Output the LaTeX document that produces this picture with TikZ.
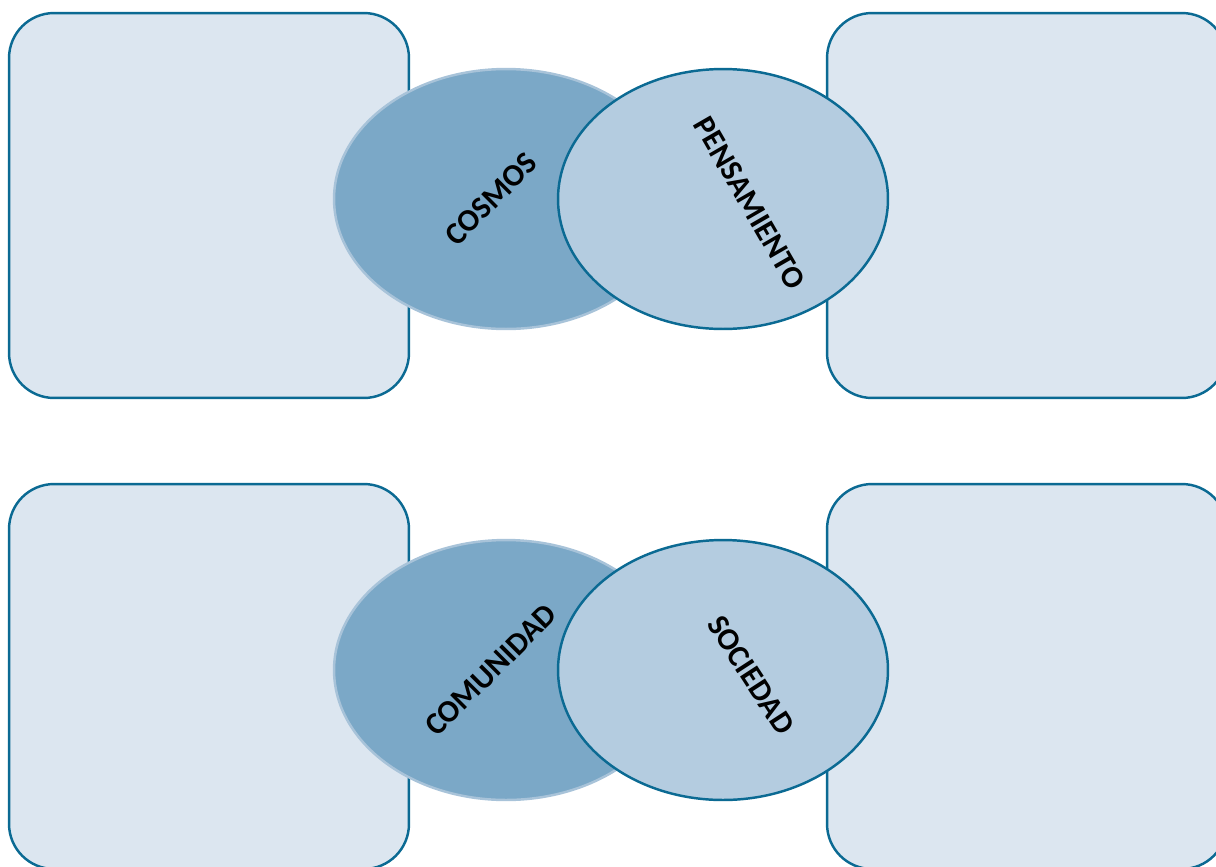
\documentclass[tikz,border=0pt]{standalone}
\usepackage{fontspec}
\setmainfont{Carlito}
\usetikzlibrary{shapes.geometric}
\definecolor{boxfill}{HTML}{DCE6F0}
\definecolor{edgeblue}{HTML}{0B6A93}
\definecolor{ringdark}{HTML}{7BA8C7}
\definecolor{ringedge}{HTML}{A8C3D9}
\definecolor{ringlight}{HTML}{B4CCE0}
\begin{document}
\begin{tikzpicture}[x=0.02cm,y=-0.02cm,
  panel/.style={draw=edgeblue, line width=1.4pt, fill=boxfill, rounded corners=0.9cm, minimum width=8cm, minimum height=7.7cm, inner sep=0pt},
  backring/.style={ellipse, draw=ringedge, line width=1.4pt, fill=ringdark, minimum width=6.88cm, minimum height=5.2cm, inner sep=0pt},
  frontring/.style={ellipse, draw=edgeblue, line width=1.4pt, fill=ringlight, minimum width=6.6cm, minimum height=5.2cm, inner sep=0pt},
  word/.style={font=\bfseries\fontsize{17.8}{21}\selectfont, inner sep=0pt}]
\useasboundingbox (0,0) rectangle (1216,866);
% side panels
\node[panel] (tl) at (209,205.5) {};
\node[panel] (tr) at (1027,205.5) {};
\node[panel] (bl) at (209,676.5) {};
\node[panel] (br) at (1027,676.5) {};
% top pair
\node[backring] (cosmos) at (506,199) {};
\node[frontring] (pensamiento) at (723,199) {};
\node[word, rotate=45] (cosmoslbl) at (491,199) {COSMOS};
\node[word, rotate=-60] (pensamientolbl) at (750,203) {PENSAMIENTO};
% bottom pair
\node[backring] (comunidad) at (506,670) {};
\node[frontring] (sociedad) at (723,670) {};
\node[word, rotate=45] (comunidadlbl) at (491,670) {COMUNIDAD};
\node[word, rotate=-57] (sociedadlbl) at (751,675) {SOCIEDAD};
\end{tikzpicture}
\end{document}
